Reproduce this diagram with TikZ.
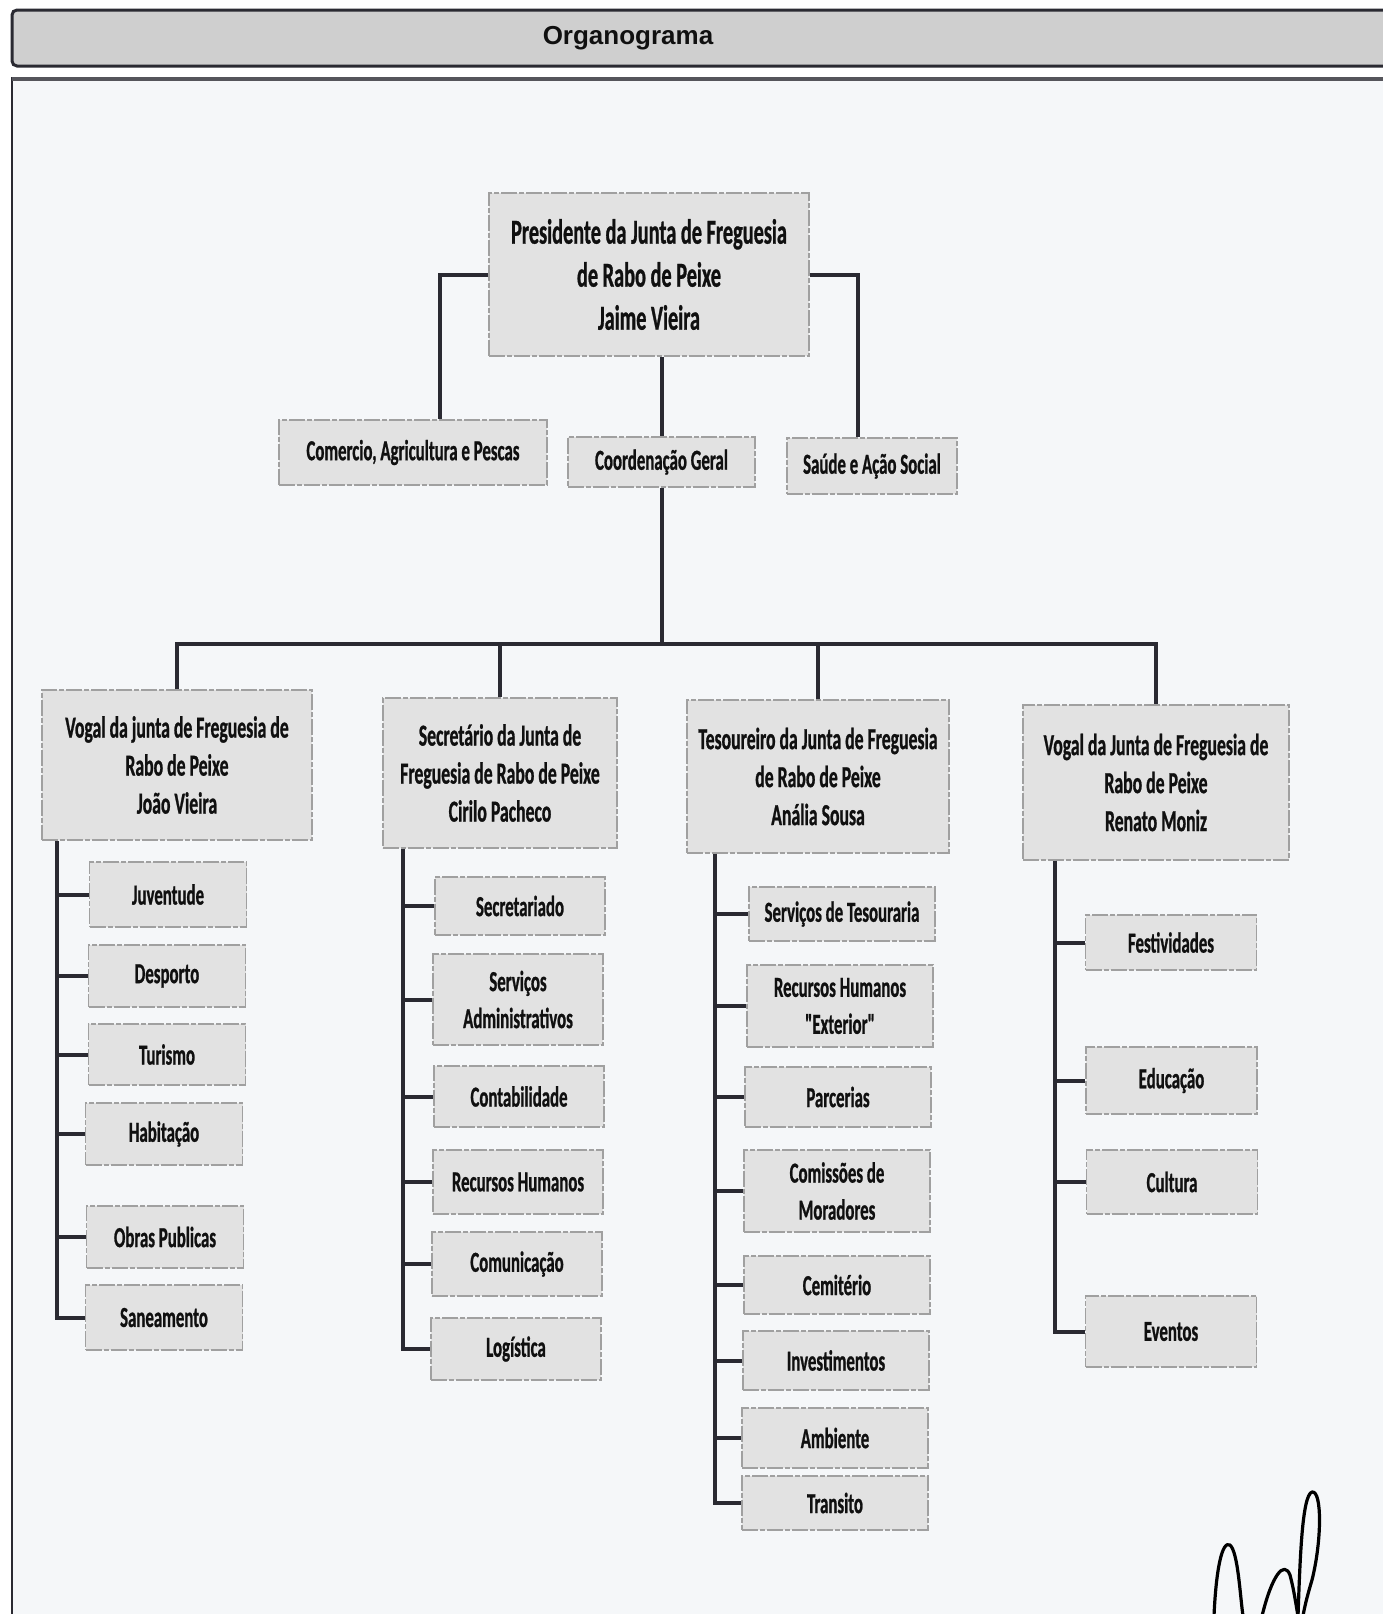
\documentclass[tikz,border=0pt]{standalone}
\usepackage{fontspec}
\newfontfamily\cf{Carlito}[FakeStretch=0.58, FakeBold=0.8]
\newfontfamily\af{Liberation Sans}
\definecolor{boxfill}{HTML}{E2E2E2}
\definecolor{boxline}{HTML}{A0A0A0}
\definecolor{lnk}{HTML}{2A2A32}
\definecolor{txt}{HTML}{101010}
\definecolor{bg}{HTML}{F5F7F9}
\definecolor{barfill}{HTML}{CFCFCF}
\begin{document}
\begin{tikzpicture}[x=1pt,y=-1pt,
  box/.style={draw=boxline, fill=boxfill, line width=1.3pt,
    dash pattern=on 16pt off 2pt on 5pt off 2pt, inner sep=0pt,
    align=center, text=txt},
  ftop/.style={font=\cf\bfseries\fontsize{35}{43}\selectfont},
  fmid/.style={font=\cf\bfseries\fontsize{30.5}{38}\selectfont},
  fsub/.style={font=\cf\bfseries\fontsize{29}{37}\selectfont},
  fleaf/.style={font=\cf\bfseries\fontsize{29}{37}\selectfont},
  conn/.style={draw=lnk, line width=4pt},
  sig/.style={draw=black, solid, line width=3.2pt, line cap=round, line join=round}]
\useasboundingbox (0,0) rectangle (1382,1614);
\fill[white] (0,0) rectangle (1382,1614);
% main frame
\fill[bg] (12,78) rectangle (1400,1640);
\draw[lnk, line width=2pt] (12,1640) -- (12,78) -- (1400,78);
\draw[lnk!80, line width=3.5pt] (12,79) -- (1400,79);
% title bar
\draw[lnk, line width=3pt, fill=barfill, rounded corners=5pt] (12,10) rectangle (1420,66);
\node[font=\af\bfseries\fontsize{26}{30}\selectfont, text=txt] (title) at (628,38) {Organograma};

% top level
\node[box, ftop, minimum width=320, minimum height=163] (P) at (649,274.5)
  {Presidente da Junta de Freguesia\\de Rabo de Peixe\\Jaime Vieira};
\node[box, fsub, minimum width=268, minimum height=65] (C1) at (413,452.5) {Comercio, Agricultura e Pescas};
\node[box, fsub, minimum width=187, minimum height=50] (C2) at (661.5,462) {Coordenação Geral};
\node[box, fsub, minimum width=170, minimum height=56] (C3) at (872,466) {Saúde e Ação Social};

% second level
\node[box, fmid, minimum width=270, minimum height=150] (B1) at (177,765)
  {Vogal da junta de Freguesia de\\Rabo de Peixe\\João Vieira};
\node[box, fmid, minimum width=234, minimum height=150] (B2) at (500,773)
  {Secretário da Junta de\\Freguesia de Rabo de Peixe\\Cirilo Pacheco};
\node[box, fmid, minimum width=262, minimum height=153] (B3) at (818,776.5)
  {Tesoureiro da Junta de Freguesia\\de Rabo de Peixe\\Anália Sousa};
\node[box, fmid, minimum width=266, minimum height=155] (B4) at (1156,782.5)
  {Vogal da Junta de Freguesia de\\Rabo de Peixe\\Renato Moniz};

% column 1
\begin{scope}[every node/.style={box, fleaf, minimum width=157}]
\node[minimum height=65] (a1) at (168,894.5) {Juventude};
\node[minimum height=62] (a2) at (167,976) {Desporto};
\node[minimum height=61] (a3) at (167,1054.5) {Turismo};
\node[minimum height=62] (a4) at (164,1134) {Habitação};
\node[minimum height=62] (a5) at (165,1237) {Obras Publicas};
\node[minimum height=65] (a6) at (164,1317.5) {Saneamento};
\end{scope}
% column 2
\begin{scope}[every node/.style={box, fleaf, minimum width=170}]
\node[minimum height=58] (b1) at (520,906) {Secretariado};
\node[minimum height=91] (b2) at (518,999.5) {Serviços\\Administrativos};
\node[minimum height=61] (b3) at (519,1096.5) {Contabilidade};
\node[minimum height=64] (b4) at (518,1182) {Recursos Humanos};
\node[minimum height=64] (b5) at (517,1264) {Comunicação};
\node[minimum height=62] (b6) at (516,1349) {Logística};
\end{scope}
% column 3
\begin{scope}[every node/.style={box, fleaf, minimum width=186}]
\node[minimum height=54] (c1) at (842,914) {Serviços de Tesouraria};
\node[minimum height=82] (c2) at (840,1006) {Recursos Humanos\\"Exterior"};
\node[minimum height=60] (c3) at (838,1097) {Parcerias};
\node[minimum height=82] (c4) at (837,1191) {Comissões de\\Moradores};
\node[minimum height=58] (c5) at (837,1285) {Cemitério};
\node[minimum height=59] (c6) at (836,1360.5) {Investimentos};
\node[minimum height=60] (c7) at (835,1438) {Ambiente};
\node[minimum height=54] (c8) at (835,1503) {Transito};
\end{scope}
% column 4
\begin{scope}[every node/.style={box, fleaf, minimum width=171}]
\node[minimum height=55] (d1) at (1171,942.5) {Festividades};
\node[minimum height=67] (d2) at (1171.5,1080.5) {Educação};
\node[minimum height=64] (d3) at (1172,1182) {Cultura};
\node[minimum height=71] (d4) at (1171,1331.5) {Eventos};
\end{scope}

% connectors, top
\draw[conn] (P.west) -| ([xshift=27pt]C1.north);
\draw[conn] (P.east) -| ([xshift=-14pt]C3.north);
\draw[conn] (C2.north |- P.south) -- (C2.north);
\coordinate (bus) at (656,644);
\draw[conn] (C2.south) -- (C2.south |- bus);
\draw[conn] (B1.north) |- (bus -| B4.north) -- (B4.north);
\draw[conn] (B2.north) -- (B2.north |- bus);
\draw[conn] (B3.north) -- (B3.north |- bus);

% spines
\coordinate (x1) at (57,0);
\coordinate (x2) at (403,0);
\coordinate (x3) at (715,0);
\coordinate (x4) at (1055,0);
\draw[conn] (B1.south -| x1) |- (a6.west);
\foreach \n in {a1,a2,a3,a4,a5} \draw[conn] (x1 |- \n.west) -- (\n.west);
\draw[conn] (B2.south -| x2) |- (b6.west);
\foreach \n in {b1,b2,b3,b4,b5} \draw[conn] (x2 |- \n.west) -- (\n.west);
\draw[conn] (B3.south -| x3) |- (c8.west);
\foreach \n in {c1,c2,c3,c4,c5,c6,c7} \draw[conn] (x3 |- \n.west) -- (\n.west);
\draw[conn] (B4.south -| x4) |- (d4.west);
\foreach \n in {d1,d2,d3} \draw[conn] (x4 |- \n.west) -- (\n.west);

% signature
\draw[sig] (1214,1616) .. controls (1216,1570) and (1222,1540) .. (1230,1545)
  .. controls (1238,1552) and (1240,1595) .. (1243,1616);
\draw[sig] (1262,1616) .. controls (1272,1575) and (1284,1560) .. (1290,1575)
  .. controls (1294,1590) and (1296,1605) .. (1298,1616);
\draw[sig] (1298,1616) .. controls (1300,1560) and (1302,1495) .. (1312,1492)
  .. controls (1322,1490) and (1322,1540) .. (1312,1580)
  .. controls (1306,1600) and (1304,1610) .. (1303,1616);
\end{tikzpicture}
\end{document}
